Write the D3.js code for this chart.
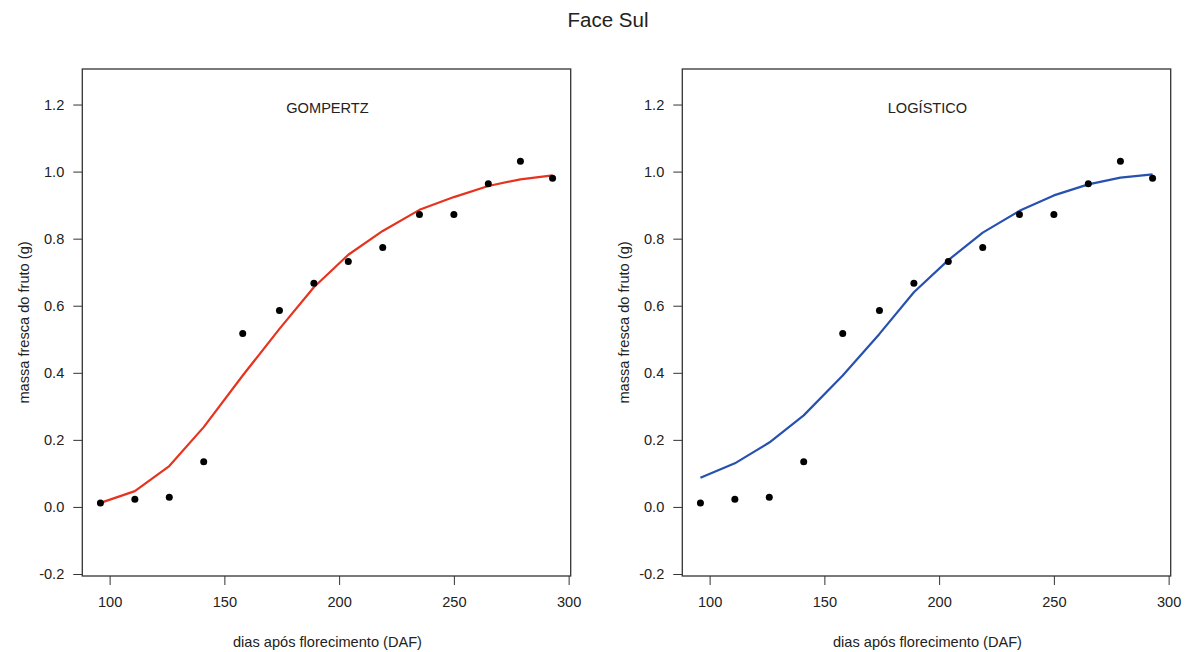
<!DOCTYPE html>
<html>
<head>
<meta charset="utf-8">
<script src="https://cdn.jsdelivr.net/npm/d3@7"></script>
<style>
  html, body { margin: 0; padding: 0; background: #fff; }
  svg { display: block; }
  text { font-family: "Liberation Sans", Arial, Helvetica, sans-serif; fill: #222; }
</style>
</head>
<body>
<svg id="chart" width="1185" height="652"></svg>
<script>
// ---- data ----
const days = [96, 111, 126, 141, 158, 174, 189, 204, 219, 235, 250, 265, 279, 293];
const massObserved = [0.012, 0.023, 0.029, 0.135, 0.517, 0.586, 0.667, 0.732, 0.774, 0.872, 0.872, 0.964, 1.031, 0.980];
const gompertzFit = [0.012, 0.047, 0.122, 0.238, 0.392, 0.531, 0.655, 0.752, 0.823, 0.886, 0.924, 0.957, 0.977, 0.989];
const logisticFit = [0.087, 0.130, 0.192, 0.273, 0.392, 0.516, 0.640, 0.736, 0.818, 0.883, 0.929, 0.962, 0.982, 0.992];
const xTicks = [100, 150, 200, 250, 300];
const yTicks = [-0.2, 0.0, 0.2, 0.4, 0.6, 0.8, 1.0, 1.2];
const panelNames = ["GOMPERTZ", "LOGÍSTICO"];
const chartTitle = "Face Sul";
const xTitle = "dias após florecimento (DAF)";
const yTitle = "massa fresca do fruto (g)";

// ---- layout ----
const svg = d3.select("#chart");
const plotW = 488.4, plotH = 507;
const plotTop = 69;
const panelLefts = [82.3, 682.3];
const fits = [gompertzFit, logisticFit];
const colors = ["#e5331f", "#2751b0"];
const fs = 14.6;

svg.append("text")
  .attr("x", 608).attr("y", 27)
  .attr("text-anchor", "middle")
  .style("font-size", "20.5px")
  .text(chartTitle);

const x = d3.scaleLinear().domain([88.1, 300.9]).range([0, plotW]);
const y = d3.scaleLinear().domain([-0.206, 1.306]).range([plotH, 0]);

panelLefts.forEach((left, i) => {
  const g = svg.append("g").attr("transform", `translate(${left},${plotTop})`);

  // y axis
  const ya = g.append("g")
    .call(d3.axisLeft(y).tickValues(yTicks).tickFormat(d3.format(".1f")).tickSize(9).tickPadding(9));
  ya.select(".domain").remove();
  ya.selectAll("line").attr("stroke", "#333");
  ya.selectAll("text").style("font-size", fs + "px").attr("fill", "#222")
    .text(d => d3.format(".1f")(d).replace("−", "-"));

  // x axis
  const xa = g.append("g").attr("transform", `translate(0,${plotH})`)
    .call(d3.axisBottom(x).tickValues(xTicks).tickFormat(d3.format("d")).tickSize(9).tickPadding(12));
  xa.select(".domain").remove();
  xa.selectAll("line").attr("stroke", "#333");
  xa.selectAll("text").style("font-size", fs + "px").attr("fill", "#222");

  // box
  g.append("rect")
    .attr("x", 0).attr("y", 0).attr("width", plotW).attr("height", plotH)
    .attr("fill", "none").attr("stroke", "#333").attr("stroke-width", 1.3);

  // fitted curve
  const line = d3.line().x((d, j) => x(days[j])).y(d => y(d));
  g.append("path")
    .datum(fits[i])
    .attr("d", line)
    .attr("fill", "none")
    .attr("stroke", colors[i])
    .attr("stroke-width", 2.2)
    .attr("stroke-linejoin", "round");

  // observed points
  g.selectAll("circle.obs")
    .data(massObserved)
    .enter().append("circle")
    .attr("class", "obs")
    .attr("cx", (d, j) => x(days[j]))
    .attr("cy", d => y(d))
    .attr("r", 3.5)
    .attr("fill", "#000");

  // panel label
  g.append("text")
    .attr("x", plotW / 2 + 1)
    .attr("y", y(1.2) + 8.6)
    .attr("text-anchor", "middle")
    .style("font-size", fs + "px")
    .text(panelNames[i]);

  // x title
  g.append("text")
    .attr("x", plotW / 2 + 1)
    .attr("y", plotH + 71)
    .attr("text-anchor", "middle")
    .style("font-size", fs + "px")
    .text(xTitle);

  // y title
  g.append("text")
    .attr("transform", `translate(${-58},${plotH / 2}) rotate(-90)`)
    .attr("text-anchor", "middle")
    .attr("dy", "0.35em")
    .style("font-size", fs + "px")
    .text(yTitle);
});
</script>
</body>
</html>
